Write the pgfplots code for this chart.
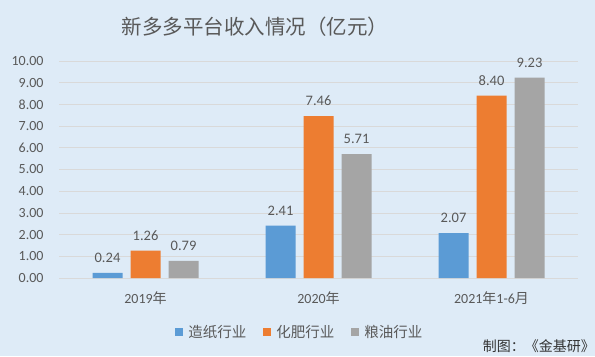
\documentclass[border=0pt]{standalone}
\usepackage{pgfplots}
\pgfplotsset{compat=1.18}
\usepackage{fontspec}
\setmainfont{Carlito}
\newfontfamily\cjk{Noto Sans CJK SC}
\definecolor{bg}{HTML}{DEEBF7}
\definecolor{gridc}{HTML}{D9D9D9}
\definecolor{txt}{HTML}{595959}
\definecolor{cblue}{HTML}{5B9BD5}
\definecolor{corange}{HTML}{ED7D31}
\definecolor{cgray}{HTML}{A5A5A5}
\begin{document}
\begin{tikzpicture}[x=1bp,y=1bp]
\fill[bg] (0,0) rectangle (595,356);
\useasboundingbox (0,0) rectangle (595,356);
\node[font=\cjk\fontsize{20.5bp}{24bp}\selectfont, text=txt] at (255,329) {新多多平台收入情况（亿元）};
\node[font=\cjk\fontsize{14bp}{16bp}\selectfont, text=black!80, anchor=east, inner sep=0pt] at (595,10) {制图：《金基研》};
\begin{axis}[
  at={(59bp,78bp)}, anchor=south west,
  scale only axis, width=519bp, height=217bp,
  xmin=-0.5, xmax=2.5, ymin=0, ymax=10,
  ytick={0,1,...,10},
  xtick={0,1,2},
  xticklabels={{2019\cjk 年},{2020\cjk 年},{2021\cjk 年\rmfamily 1-6\cjk 月}},
  ymajorgrids, grid style={gridc, line width=0.8bp},
  axis line style={draw=none},
  tick style={draw=none},
  /pgf/number format/assume math mode=true,
  yticklabel={\pgfmathprintnumber[fixed,fixed zerofill,precision=2]{\tick}},
  yticklabel style={font=\fontsize{14bp}{16bp}\selectfont, text=txt, xshift=-12bp},
  xticklabel style={font=\fontsize{14bp}{16bp}\selectfont, text=txt, yshift=-6bp},
  ybar=8bp, bar width=30bp,
  clip=false,
  nodes near coords={\pgfmathprintnumber[fixed,fixed zerofill,precision=2]{\pgfplotspointmeta}},
  every node near coord/.append style={font=\fontsize{14.5bp}{16bp}\selectfont, text=txt, yshift=7bp},
  legend columns=3,
  legend style={at={(axis description cs:0.464,-0.249)}, anchor=center, draw=none, fill=none,
    font=\cjk\fontsize{14.5bp}{16bp}\selectfont, text=txt,
    /tikz/every odd column/.append style={column sep=3bp},
    /tikz/every even column/.append style={column sep=15bp}},
  legend image code/.code={\fill[#1] (0bp,-4bp) rectangle (8bp,4bp);},
]
\addplot[fill=cblue, draw=none] coordinates {(0,0.24) (1,2.41) (2,2.07)};
\addplot[fill=corange, draw=none] coordinates {(0,1.26) (1,7.46) (2,8.40)};
\addplot[fill=cgray, draw=none] coordinates {(0,0.79) (1,5.71) (2,9.23)};
\legend{造纸行业,化肥行业,粮油行业}
\end{axis}
\end{tikzpicture}
\end{document}
